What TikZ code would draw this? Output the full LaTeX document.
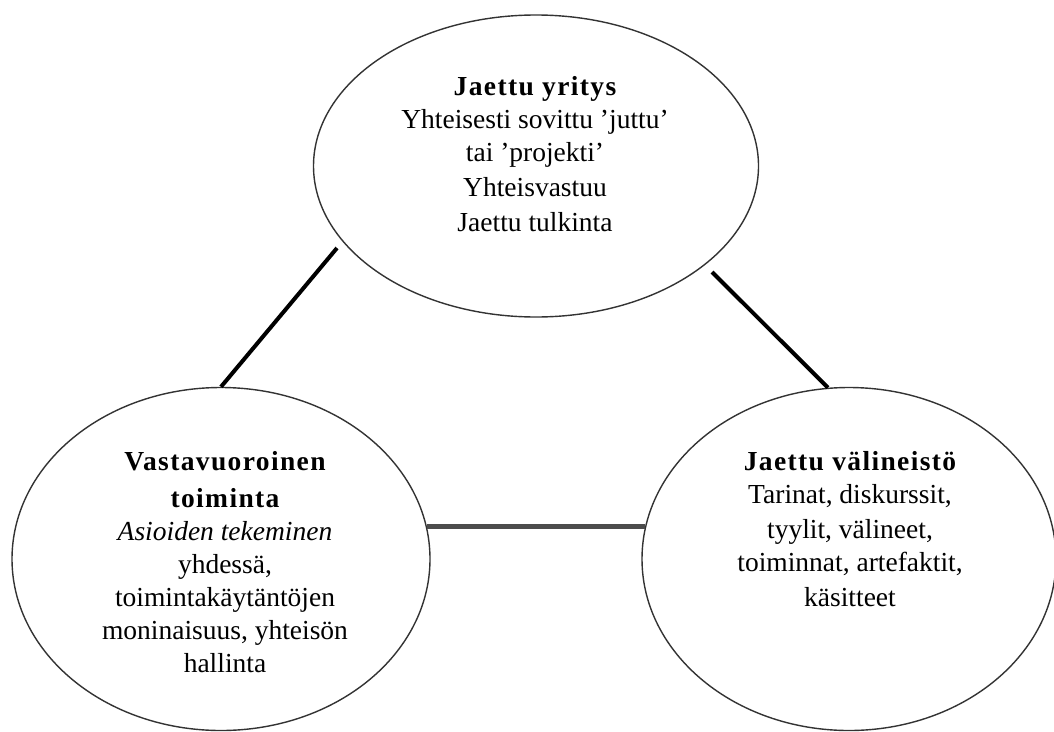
\documentclass[tikz,border=0pt]{standalone}
\usepackage{fontspec}
\setmainfont{Liberation Serif}
\newfontfamily\hdfont[LetterSpace=5]{Liberation Serif}
\usetikzlibrary{shapes.geometric}
\begin{document}
\begin{tikzpicture}[x=1pt,y=-1pt,
  bubble/.style={ellipse, draw=black!80, line width=1.4pt, inner sep=0pt},
  conn/.style={line width=4pt, black},
  hline/.style={line width=4.5pt, black!70},
  txt/.style={align=center, font=\fontsize{27.5}{33}\selectfont, inner sep=0pt, anchor=north}]
\useasboundingbox (0,0) rectangle (1054,731);
\fill[white] (0,0) rectangle (1054,731);
\node[bubble, minimum width=445pt, minimum height=302pt] (top) at (536,166) {};
\node[bubble, minimum width=418pt, minimum height=343pt] (left) at (221,559) {};
\node[bubble, minimum width=414pt, minimum height=343pt] (right) at (849,559) {};
\node[txt] (ttop) at (535,76) {{\hdfont\bfseries Jaettu yritys}\\Yhteisesti sovittu ’juttu’\\tai ’projekti’\\[2pt]Yhteisvastuu\\[2pt]Jaettu tulkinta};
\node[txt] (tleft) at (225,451) {{\hdfont\bfseries Vastavuoroinen}\\[4pt]{\hdfont\bfseries toiminta}\\\textit{Asioiden tekeminen}\\yhdessä,\\toimintakäytäntöjen\\moninaisuus, yhteisön\\hallinta};
\node[txt] (tright) at (850,451) {{\hdfont\bfseries Jaettu välineistö}\\Tarinat, diskurssit,\\[2pt]tyylit, välineet,\\toiminnat, artefaktit,\\[2pt]käsitteet};
\coordinate (a1) at (337,248);
\coordinate (a2) at (712,272);
\draw[conn] (a1) -- (left.north);
\draw[conn] (a2) -- (right.97);
\draw[hline] (left.9) -- (left.9 -| right.171);
\end{tikzpicture}
\end{document}
